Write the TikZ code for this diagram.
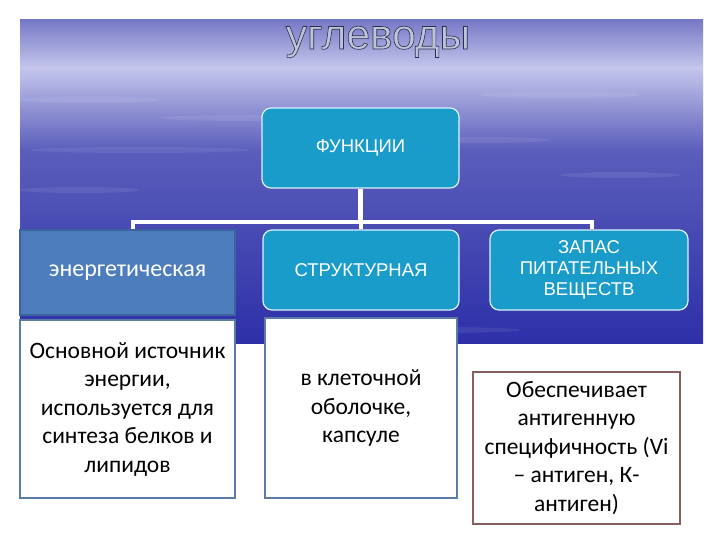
\documentclass[tikz,border=0pt]{standalone}
\usepackage{fontspec}
\setmainfont{Carlito}
\newfontfamily\arialfont{Liberation Sans}
\usetikzlibrary{positioning,calc}

\definecolor{slideblue}{HTML}{2D30A8}
\definecolor{slidelight}{HTML}{C4C6EC}
\definecolor{boxcyan}{HTML}{1A9CCB}
\definecolor{energblue}{HTML}{4D7DBD}
\definecolor{energline}{HTML}{3C62A0}
\definecolor{steelline}{HTML}{5C7CA8}
\definecolor{brownline}{HTML}{8A5E60}
\definecolor{titletext}{HTML}{BCC4DA}

\begin{document}
\begin{tikzpicture}[x=1pt,y=-1pt,
    cyanbox/.style={draw=white!85!cyan, line width=1.2pt, rounded corners=9pt, fill=boxcyan, text=white,
        font=\arialfont\fontsize{18.5}{21}\selectfont, align=center, inner sep=0pt},
    textbox/.style={draw=steelline, line width=1.2pt, fill=white, text=black,
        font=\fontsize{23.5}{28.5}\selectfont, align=center, inner sep=0pt},
    wire/.style={draw=white, line width=4.5pt}]
    \useasboundingbox (0,0) rectangle (720,540);

    % Slide background
    \shade[top color=slideblue!65!white, bottom color=slidelight] (20,20) rectangle (703,68);
    \shade[top color=slidelight, bottom color=slideblue!78!white] (20,68) rectangle (703,150);
    \shade[top color=slideblue!78!white, bottom color=slideblue] (20,150) rectangle (703,343);
    \foreach \x/\y/\w in {90/100/70, 250/118/90, 560/95/80, 140/150/110, 480/140/70, 620/175/60, 80/190/60, 430/330/90, 650/300/40} {
        \fill[white, opacity=0.08] (\x,\y) ellipse ({\w pt} and 3pt);
    }

    % Title
    \node[anchor=base, text=titletext, font=\arialfont\fontsize{42.5}{42.5}\selectfont] (title) at (378,49)
        {\special{pdf:code 0.18 0.18 0.3 RG 2 Tr 0.6 w}углеводы\special{pdf:code 0 Tr}};

    % Boxes
    \node[cyanbox, minimum width=197pt, minimum height=80pt] (func) at (360.5,148) {ФУНКЦИИ};
    \node[cyanbox, minimum width=196pt, minimum height=80pt] (struct) at (361,270) {СТРУКТУРНАЯ};
    \node[cyanbox, minimum width=198pt, minimum height=80pt] (zapas) at (589,270) {ЗАПАС\\ПИТАТЕЛЬНЫХ\\ВЕЩЕСТВ};

    % Tree lines
    \coordinate (busL) at (133,222);
    \coordinate (busR) at (592,222);
    \draw[wire] (func.south) -- (func.south |- busL);
    \draw[wire] ([xshift=-2.25pt]busL) -- ([xshift=2.25pt]busR);
    \draw[wire] (busL) -- (133,232);
    \draw[wire] (busR) -- (busR |- zapas.north);
    \draw[wire] (busL -| struct.north) -- (struct.north);

    \node[draw=energline, line width=1.2pt, fill=energblue, text=white, font=\fontsize{24}{28}\selectfont,
        minimum width=215pt, minimum height=85pt, inner sep=0pt] (energ) at (127.5,272.5) {энергетическая};

    % Descriptions
    \node[textbox, minimum width=215pt, minimum height=178pt] (energtext) at (127.5,409)
        {Основной источник\\энергии,\\используется для\\синтеза белков и\\липидов};
    \node[textbox, minimum width=192pt, minimum height=180pt] (structtext) at (361,408)
        {в клеточной\\оболочке,\\капсуле};
    \node[textbox, draw=brownline, minimum width=207pt, minimum height=152pt] (zapastext) at (576.5,448)
        {Обеспечивает\\антигенную\\специфичность (Vi\\– антиген, К-\\антиген)};
\end{tikzpicture}
\end{document}
